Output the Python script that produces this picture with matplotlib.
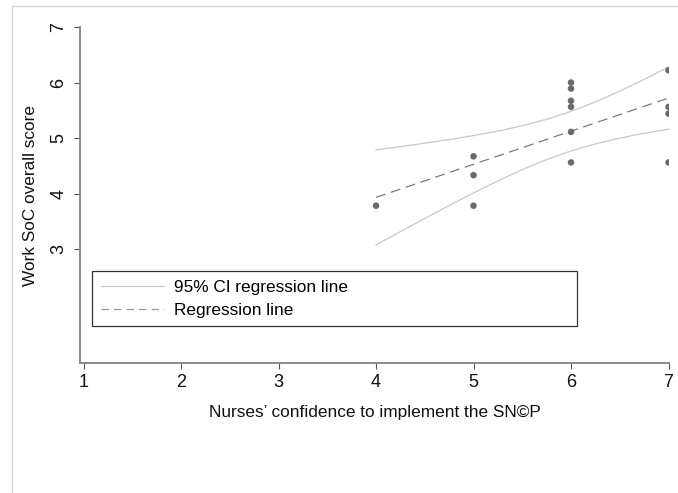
import numpy as np
import matplotlib
matplotlib.use("Agg")
import matplotlib.pyplot as plt
from matplotlib.lines import Line2D

# ---- data ----
confidence = [4, 5, 5, 5, 6, 6, 6, 6, 6, 6, 7, 7, 7, 7]
soc_score = [3.78, 4.67, 4.33, 3.78,
             6.00, 5.89, 5.67, 5.56, 5.11, 4.56,
             6.22, 5.56, 5.44, 4.56]
x_ticks = [1, 2, 3, 4, 5, 6, 7]
y_ticks = [3, 4, 5, 6, 7]
x_label = "Nurses\u2019 confidence to implement the SN\u00a9P"
y_label = "Work SoC overall score"
legend_labels = ["95% CI regression line", "Regression line"]

# ---- linear regression with 95% CI of the mean ----
x = np.array(confidence, dtype=float)
y = np.array(soc_score, dtype=float)
n = len(x)
slope, intercept = np.polyfit(x, y, 1)
resid = y - (intercept + slope * x)
s = np.sqrt(np.sum(resid ** 2) / (n - 2))
sxx = np.sum((x - x.mean()) ** 2)
try:
    from scipy import stats
    tval = stats.t.ppf(0.975, n - 2)
except Exception:
    tval = {10: 2.228, 11: 2.201, 12: 2.179, 13: 2.160, 14: 2.145}.get(n - 2, 2.179)
xg = np.linspace(x.min(), x.max(), 200)
yg = intercept + slope * xg
half = tval * s * np.sqrt(1.0 / n + (xg - x.mean()) ** 2 / sxx)

# ---- figure ----
plt.rcParams['font.family'] = ['Liberation Sans', 'DejaVu Sans']
W, H = 678, 493
fig = plt.figure(figsize=(W / 100, H / 100), dpi=100)

# outer light frame (top & left edges visible)
fig.add_artist(Line2D([12 / W, 1.0], [1 - 6 / H, 1 - 6 / H], color='#d4d4d4', lw=1.0,
                      transform=fig.transFigure))
fig.add_artist(Line2D([12 / W, 12 / W], [0.0, 1 - 6 / H], color='#d4d4d4', lw=1.0,
                      transform=fig.transFigure))

L, R, T, B = 80, 669, 27, 363
ax = fig.add_axes([L / W, 1 - B / H, (R - L) / W, (B - T) / H])

ci_color = '#c8c8c8'
ax.plot(xg, yg + half, color=ci_color, lw=0.9, zorder=2)
ax.plot(xg, yg - half, color=ci_color, lw=0.9, zorder=2)
ax.plot(xg, yg, color='#7a7a7a', lw=0.9, dashes=(8, 4.5), zorder=3)
ax.scatter(x, y, s=22, color='#6a6a6a', edgecolors='none', zorder=4)

ax.set_xlim(0.964, 7.005)
ax.set_ylim(0.946, 7.0)
ax.set_xticks(x_ticks)
ax.set_yticks(y_ticks)
ax.set_yticklabels([str(v) for v in y_ticks], rotation=90, va='center')

for sp in ['top', 'right']:
    ax.spines[sp].set_visible(False)
for sp in ['left', 'bottom']:
    ax.spines[sp].set_color('#8a8a8a')
    ax.spines[sp].set_linewidth(1.4)
ax.tick_params(axis='both', direction='out', length=4, width=0.8, color='#555555',
               labelsize=13, labelcolor='#111111')
ax.tick_params(axis='x', pad=4)
ax.tick_params(axis='y', pad=5)

ax.set_xlabel(x_label, fontsize=12.4, labelpad=10, color='#111111')
ax.set_ylabel(y_label, fontsize=12.4, labelpad=9, color='#111111')

handles = [Line2D([], [], color=ci_color, lw=0.9),
           Line2D([], [], color='#9a9a9a', lw=0.9, dashes=(6, 4))]
leg = ax.legend(handles, legend_labels, loc='upper left',
                bbox_to_anchor=(92 / W, 0.0, 485 / W, 1 - 271 / H),
                bbox_transform=fig.transFigure, mode='expand', borderaxespad=0,
                fancybox=False, framealpha=1, edgecolor='#333333', fontsize=12.4,
                handlelength=3.7, handletextpad=0.58, labelspacing=0.47,
                borderpad=0.5)
leg.get_frame().set_linewidth(0.9)

fig.savefig("out.png", dpi=100)
